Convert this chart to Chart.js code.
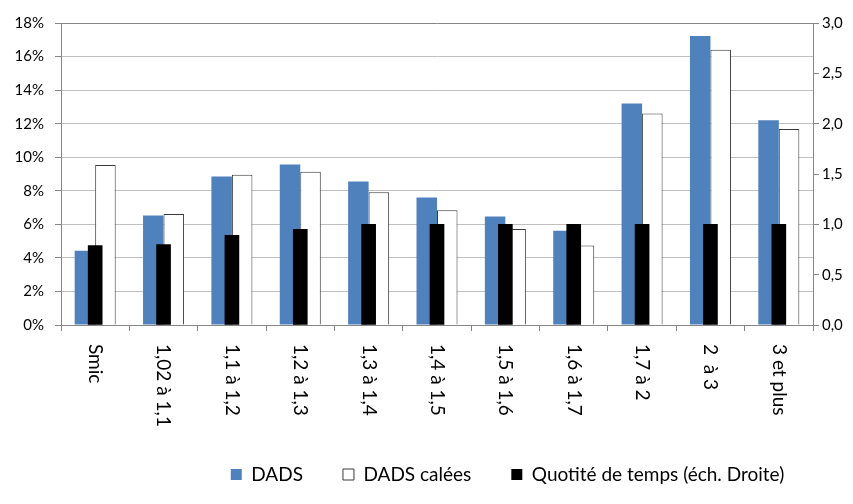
<!DOCTYPE html>
<html>
<head>
<meta charset="utf-8">
<script src="https://cdn.jsdelivr.net/npm/chart.js@4.4.1/dist/chart.umd.min.js"></script>
<style>
  html, body { margin: 0; padding: 0; background: #fff; }
  #wrap { width: 853px; height: 504px; }
</style>
</head>
<body>
<div id="wrap"><canvas id="chart" width="853" height="504"></canvas></div>
<script>
// tranches de salaire (en Smic)
const categories = ['Smic', '1,02 à 1,1', '1,1 à 1,2', '1,2 à 1,3', '1,3 à 1,4', '1,4 à 1,5',
                    '1,5 à 1,6', '1,6 à 1,7', '1,7 à 2', '2  à 3', '3 et plus'];

// parts en % (échelle gauche)
const dads       = [4.43, 6.52, 8.85, 9.57, 8.55, 7.6, 6.46, 5.62, 13.2, 17.22, 12.2];
const dadsCalees = [9.53, 6.62, 8.95, 9.13, 7.91, 6.84, 5.72, 4.74, 12.6, 16.4, 11.68];

// quotité de temps (échelle droite)
const quotite = [0.79, 0.8, 0.89, 0.95, 1.0, 1.0, 1.0, 1.0, 1.0, 1.0, 1.0];

const leftTicks = [0, 2, 4, 6, 8, 10, 12, 14, 16, 18];
const rightTicks = [0, 0.5, 1, 1.5, 2, 2.5, 3];

const FONT = 'Lato';

// etiquettes de l'axe x tournees a 90 degres (sens horaire, comme Excel)
const rotatedLabels = {
  id: 'rotatedLabels',
  afterDraw(chart) {
    const xs = chart.scales.x;
    const ctx = chart.ctx;
    ctx.save();
    ctx.font = '19px ' + FONT;
    ctx.fillStyle = '#000';
    ctx.textAlign = 'left';
    ctx.textBaseline = 'middle';
    categories.forEach((lab, i) => {
      ctx.save();
      ctx.translate(xs.getPixelForValue(i), xs.top + 19);
      ctx.rotate(Math.PI / 2);
      ctx.fillText(lab, 0, 0);
      ctx.restore();
    });
    ctx.restore();
  }
};

// la legende est decalee vers la droite comme dans l'original
const moveLegend = {
  id: 'moveLegend',
  afterLayout(chart) {
    const lg = chart.legend;
    const dx = 81, dy = -10;
    lg.left += dx; lg.right += dx;
    lg.top += dy; lg.bottom += dy;
  }
};

const ctx = document.getElementById('chart').getContext('2d');
const chart = new Chart(ctx, {
  type: 'bar',
  data: {
    labels: categories,
    datasets: [
      {
        label: 'DADS',
        data: dads,
        backgroundColor: '#4F81BD',
        borderWidth: 0,
        yAxisID: 'y',
        order: 1,
        categoryPercentage: 0.6,
        barPercentage: 1.0
      },
      {
        label: 'DADS calées',
        data: dadsCalees,
        backgroundColor: '#FFFFFF',
        borderColor: '#3A3A3A',
        borderWidth: 1,
        yAxisID: 'y',
        order: 2,
        categoryPercentage: 0.6,
        barPercentage: 1.0
      },
      {
        label: 'Quotité de temps (éch. Droite)',
        data: quotite,
        backgroundColor: '#000000',
        borderWidth: 0,
        yAxisID: 'y2',
        order: 0,
        grouped: false,
        barThickness: 14
      }
    ]
  },
  options: {
    responsive: false,
    animation: false,
    layout: { padding: { top: 23, bottom: 0, left: 0, right: 0 } },
    plugins: {
      tooltip: { enabled: false },
      legend: {
        position: 'bottom',
        labels: {
          font: { family: FONT, size: 19 },
          color: '#000',
          boxWidth: 11,
          boxHeight: 11,
          padding: 40,
          sort: (a, b) => a.datasetIndex - b.datasetIndex
        }
      }
    },
    scales: {
      x: {
        offset: true,
        grid: {
          offset: true,
          drawOnChartArea: false,
          drawTicks: true,
          tickLength: 6,
          tickColor: '#868686'
        },
        border: { display: true, color: '#868686', width: 1 },
        ticks: { display: false },
        afterFit(scale) { scale.height = 110; }
      },
      y: {
        position: 'left',
        min: 0,
        max: 18,
        afterBuildTicks(scale) { scale.ticks = leftTicks.map(v => ({ value: v })); },
        grid: {
          color: c => (c.tick && c.tick.value === 18 ? '#868686' : '#C0C0C0'),
          lineWidth: 1,
          tickLength: 6,
          tickColor: '#868686'
        },
        border: { display: true, color: '#868686', width: 1 },
        ticks: {
          font: { family: FONT, size: 15 },
          color: '#000',
          padding: 11,
          callback: v => v + '%'
        },
        afterFit(scale) { scale.width = 61; }
      },
      y2: {
        position: 'right',
        min: 0,
        max: 3,
        afterBuildTicks(scale) { scale.ticks = rightTicks.map(v => ({ value: v })); },
        grid: {
          drawOnChartArea: false,
          tickLength: 6,
          tickColor: '#868686'
        },
        border: { display: true, color: '#868686', width: 1 },
        ticks: {
          font: { family: FONT, size: 15 },
          color: '#000',
          padding: 3,
          callback: v => v.toFixed(1).replace('.', ',')
        },
        afterFit(scale) { scale.width = 40; }
      }
    }
  },
  plugins: [rotatedLabels, moveLegend]
});
</script>
</body>
</html>
